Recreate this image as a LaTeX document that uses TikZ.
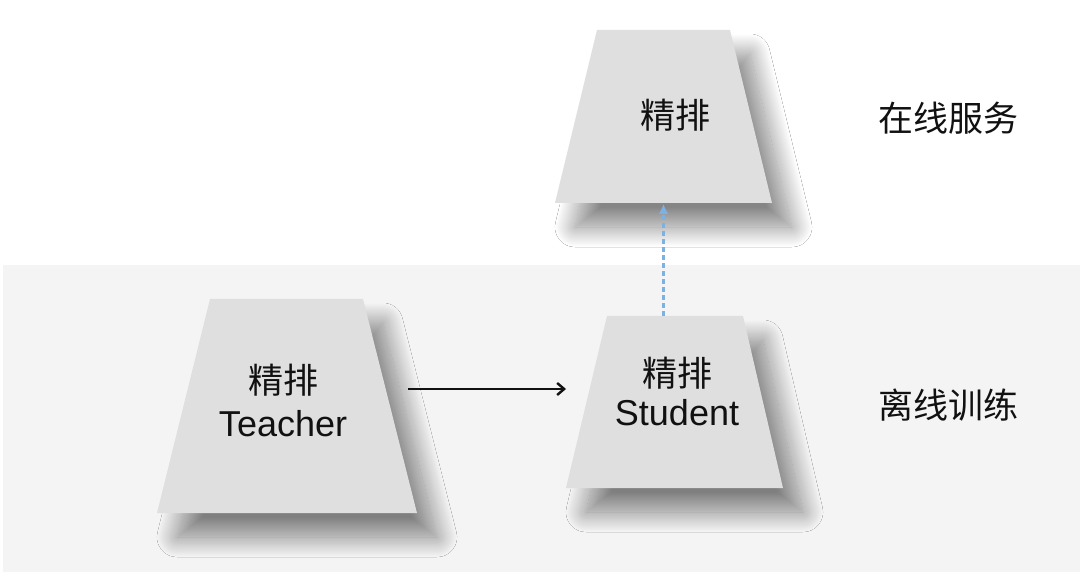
\documentclass[tikz,border=0pt]{standalone}
\usepackage{fontspec}
\setmainfont{Liberation Sans}
\newfontfamily\cjk{Noto Sans CJK SC}
\usetikzlibrary{shadows.blur,arrows.meta}
\definecolor{boxgray}{HTML}{DFDFDF}
\definecolor{bandgray}{HTML}{F4F4F4}
\definecolor{dashblue}{HTML}{7EB1E3}
\definecolor{ink}{HTML}{111111}
\begin{document}
\begin{tikzpicture}[x=1pt,y=-1pt,
  box/.style={fill=boxgray, draw=none,
    blur shadow={shadow xshift=20pt, shadow yshift=-24pt, shadow blur radius=20pt, shadow blur steps=40, shadow opacity=48}},
  cjktext/.style={font=\cjk\fontsize{35}{38}\selectfont, text=ink, inner sep=0pt},
  lattext/.style={font=\fontsize{36}{40}\selectfont, text=ink, inner sep=0pt},
  sidetext/.style={font=\cjk\fontsize{35}{38}\selectfont, text=ink, inner sep=0pt}]
\useasboundingbox (0,0) rectangle (1080,572);
\fill[white] (0,0) rectangle (1080,572);
\fill[bandgray] (3,265) rectangle (1080,572);

% trapezoids
\path[box] (597,30) -- (730,30) -- (772,203) -- (555,203) -- cycle;
\path[box] (210,299) -- (363,299) -- (417,513) -- (157,513) -- cycle;
\path[box] (607,316) -- (743,316) -- (783,488) -- (566,488) -- cycle;

\node[cjktext] (serveA) at (675,115) {精排};
\node[cjktext] (teacherA) at (283,380) {精排};
\node[lattext] (teacherB) at (283,424) {Teacher};
\node[cjktext] (studentA) at (677,373) {精排};
\node[lattext] (studentB) at (677,413) {Student};

\node[sidetext] (online) at (948,118) {在线服务};
\node[sidetext] (offline) at (948,405) {离线训练};

\coordinate (a1) at (408,389);
\coordinate (a2) at (566,389);
\coordinate (studtop) at (663.5,316);
\coordinate (servebot) at (663.5,204);
\draw[ink, line width=2.6pt, -{Straight Barb[length=7pt,width=12pt,line width=2.4pt]}] (a1) -- (a2);
\draw[dashblue, line width=2.4pt, dash pattern=on 5pt off 3pt, -{Latex[length=10pt,width=10pt]}]
  (studtop) -- (servebot);
\end{tikzpicture}
\end{document}
